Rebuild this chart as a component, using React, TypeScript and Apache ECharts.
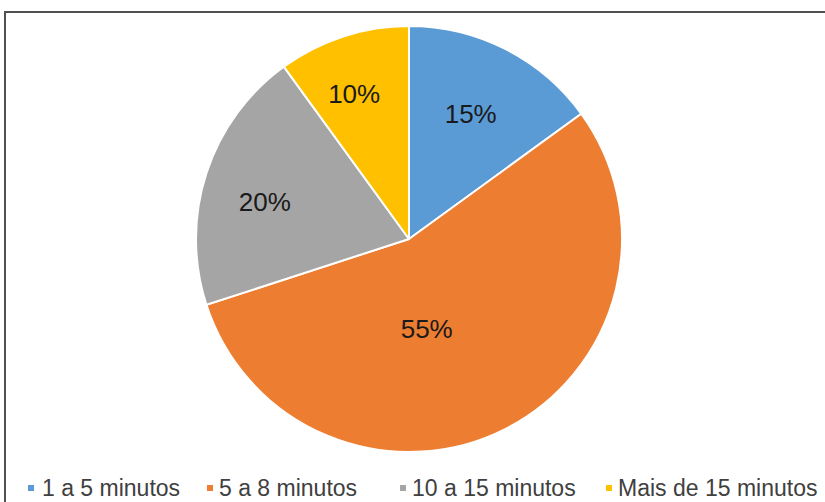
import React, { useEffect, useRef } from "react";
import * as echarts from "echarts";

const categories = ["1 a 5 minutos", "5 a 8 minutos", "10 a 15 minutos", "Mais de 15 minutos"];
const values = [15, 55, 20, 10];
const colors = ["#5B9BD5", "#ED7D31", "#A5A5A5", "#FFC000"];
const legendLefts = [26, 205, 398, 604];
const labelShifts = [
  [12, -27],
  [-32, -8],
  [-40, -3],
  [-21, -41],
];

export default function App() {
  const ref = useRef<HTMLDivElement>(null);
  useEffect(() => {
    document.body.style.margin = "0";
    const chart = echarts.init(ref.current!, null, { renderer: "svg" });
    chart.setOption({
      animation: false,
      backgroundColor: "#ffffff",
      graphic: [
        {
          type: "polyline",
          shape: { points: [[5, 502], [5, 12], [825, 12]] },
          style: { stroke: "#505050", lineWidth: 2, fill: "none" },
        },
      ],
      legend: categories.map((c, i) => ({
        data: [c],
        left: legendLefts[i],
        top: 476,
        padding: 0,
        icon: "rect",
        itemWidth: 8,
        itemHeight: 8,
        textStyle: {
          fontFamily: "Liberation Sans, Arial, sans-serif",
          fontSize: 23,
          lineHeight: 24,
          color: "#404040",
          padding: [0, 0, 0, i === 0 ? 2 : 0],
        },
      })),
      series: [
        {
          type: "pie",
          center: [409, 239],
          radius: 213,
          startAngle: 90,
          clockwise: true,
          silent: true,
          itemStyle: { borderColor: "#ffffff", borderWidth: 2 },
          label: {
            show: true,
            position: "inside",
            formatter: "{c}%",
            fontFamily: "Liberation Sans, Arial, sans-serif",
            fontSize: 26,
            color: "#1a1a1a",
          },
          labelLayout: (params: any) => {
            const s = labelShifts[params.dataIndex];
            return { dx: s[0], dy: s[1] };
          },
          data: categories.map((c, i) => ({
            name: c,
            value: values[i],
            itemStyle: { color: colors[i] },
          })),
        },
      ],
    });
    return () => chart.dispose();
  }, []);
  return <div ref={ref} style={{ width: 825, height: 502 }} />;
}
